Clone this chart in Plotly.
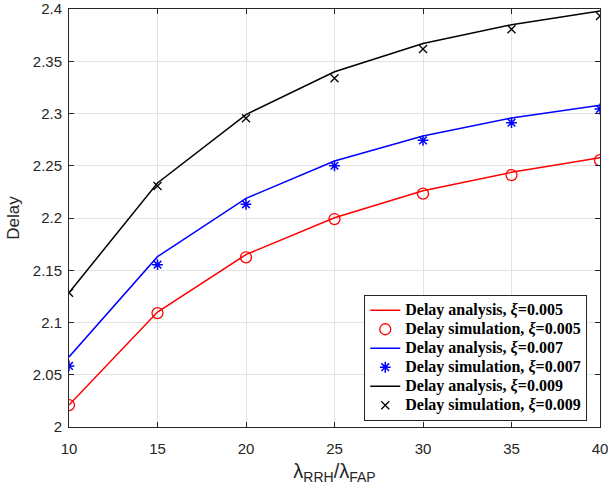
import plotly.graph_objects as go

x_vals = [10, 15, 20, 25, 30, 35, 40]
ana_005 = [2.021, 2.110, 2.165, 2.2003, 2.2261, 2.2437, 2.2577]
sim_005 = [2.021, 2.109, 2.1624, 2.199, 2.2233, 2.2411, 2.2553]
ana_007 = [2.067, 2.163, 2.2188, 2.2545, 2.2785, 2.2957, 2.3078]
sim_007 = [2.0584, 2.1553, 2.2131, 2.250, 2.2743, 2.2912, 2.3043]
ana_009 = [2.1285, 2.2335, 2.2990, 2.340, 2.367, 2.385, 2.398]
sim_009 = [2.1285, 2.2306, 2.2954, 2.3337, 2.3617, 2.3806, 2.3933]

y_ticks = [2, 2.05, 2.1, 2.15, 2.2, 2.25, 2.3, 2.35, 2.4]
y_tick_labels = ["2", "2.05", "2.1", "2.15", "2.2", "2.25", "2.3", "2.35", "2.4"]
x_ticks = [10, 15, 20, 25, 30, 35, 40]

fig = go.Figure()

def lbl(kind, xi):
    return ("<span style='font-size:16px'><b>Delay " + kind + ", <i>ξ</i>=" + xi + "</b></span>")

fig.add_trace(go.Scatter(x=x_vals, y=ana_005, mode="lines",
                         line=dict(color="#ff0000", width=1.5), name=lbl("analysis", "0.005")))
fig.add_trace(go.Scatter(x=x_vals, y=sim_005, mode="markers",
                         marker=dict(symbol="circle-open", color="#ff0000", size=11, line=dict(width=1.3)),
                         name=lbl("simulation", "0.005")))
fig.add_trace(go.Scatter(x=x_vals, y=ana_007, mode="lines",
                         line=dict(color="#0000ff", width=1.5), name=lbl("analysis", "0.007")))
fig.add_trace(go.Scatter(x=x_vals, y=sim_007, mode="markers",
                         marker=dict(symbol="asterisk-open", color="#0000ff", size=9, line=dict(width=1.5, color="#0000ff")),
                         name=lbl("simulation", "0.007")))
fig.add_trace(go.Scatter(x=x_vals, y=ana_009, mode="lines",
                         line=dict(color="#000000", width=1.5), name=lbl("analysis", "0.009")))
fig.add_trace(go.Scatter(x=x_vals, y=sim_009, mode="markers",
                         marker=dict(symbol="x-thin-open", color="#000000", size=8, line=dict(width=1.3, color="#000000")),
                         name=lbl("simulation", "0.009")))

axis_common = dict(
    showgrid=True, gridcolor="#e3e3e3", gridwidth=1,
    showline=True, linecolor="#262626", linewidth=1, mirror="ticks",
    ticks="inside", ticklen=5, tickcolor="#262626",
    tickfont=dict(family="Liberation Sans, Arial, sans-serif", size=15, color="#262626"),
    zeroline=False, automargin=False, ticklabeloverflow="allow",
)

fig.update_layout(
    template="none",
    width=608, height=489,
    margin=dict(l=69, r=8, t=9, b=62),
    paper_bgcolor="white", plot_bgcolor="white",
    xaxis=dict(range=[10, 40], tickvals=x_ticks, ticklabelstandoff=8,
               title=dict(text="λ<sub>RRH</sub>/λ<sub>FAP</sub>", standoff=7,
                          font=dict(family="Liberation Sans, Arial, sans-serif", size=20, color="#262626")),
               **axis_common),
    yaxis=dict(range=[2, 2.4], tickvals=y_ticks, ticktext=y_tick_labels, ticklabelstandoff=3,
               title=dict(text="Delay", standoff=8,
                          font=dict(family="Liberation Sans, Arial, sans-serif", size=17, color="#262626")),
               **axis_common),
    legend=dict(x=0.976, y=0.015, xanchor="right", yanchor="bottom",
                bgcolor="white", bordercolor="#262626", borderwidth=1,
                font=dict(family="Liberation Serif, Times New Roman, serif", size=12, color="#000000"),
                tracegroupgap=0, itemwidth=30),
    showlegend=True,
)

fig.write_html("out.html", config={"displayModeBar": False},
               post_script="document.body.style.margin='0';document.body.style.overflow='hidden';")
